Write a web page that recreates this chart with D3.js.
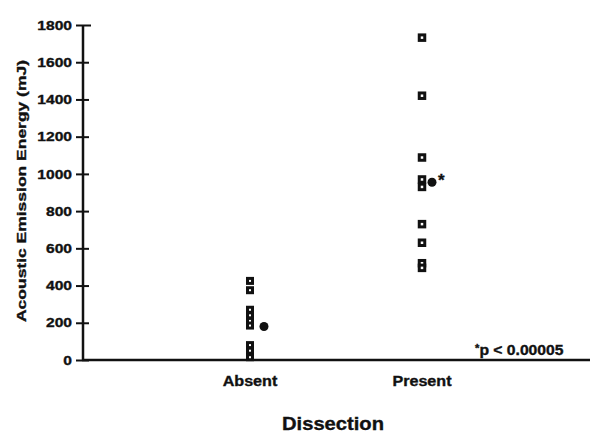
<!DOCTYPE html>
<html>
<head>
<meta charset="utf-8">
<script src="https://cdn.jsdelivr.net/npm/d3@7"></script>
<style>
  body { margin: 0; background: #fff; }
  text { font-family: "Liberation Sans", Arial, sans-serif; font-weight: bold; fill: #111; stroke: #111; stroke-width: 0.35px; }
</style>
</head>
<body>
<svg id="chart" width="606" height="434"></svg>
<script>
// values
var categories = ["Absent", "Present"];
var absentValues = [425, 375, 270, 240, 210, 185, 80, 50, 15];
var presentValues = [1732, 1420, 1088, 970, 930, 730, 630, 520, 495];
var meanValues = [180, 955];
var yTicks = [0, 200, 400, 600, 800, 1000, 1200, 1400, 1600, 1800];

var svg = d3.select("#chart");

var y = d3.scaleLinear().domain([0, 1800]).range([360, 25]);
var x = d3.scalePoint().domain(categories).range([250, 422]);
var axisLeftX = 83, axisRightX = 590;

// scanned text is a bit wider than the font, stretch it
function widen(sel, k) {
    sel.each(function() {
        var w = this.getComputedTextLength();
        d3.select(this).attr("textLength", w * k).attr("lengthAdjust", "spacingAndGlyphs");
    });
}

// y axis, ticks crossing the line
var yAxis = svg.append("g")
    .attr("transform", "translate(" + axisLeftX + ",0)")
    .call(d3.axisLeft(y).tickValues(yTicks).tickFormat(d3.format("d")).tickSize(6));
yAxis.select(".domain").remove();
yAxis.selectAll(".tick line").attr("x2", 6).attr("x1", -7)
    .attr("stroke", "#111").attr("stroke-width", 2);
yAxis.select(".tick:last-of-type line").attr("x1", -7).attr("x2", 8);
yAxis.selectAll(".tick text")
    .attr("font-size", 13).attr("fill", "#111")
    .attr("font-family", "Liberation Sans, Arial, sans-serif")
    .attr("font-weight", "bold")
    .attr("x", -11);
widen(yAxis.selectAll(".tick text"), 1.2);

svg.append("line")
    .attr("x1", axisLeftX).attr("x2", axisLeftX)
    .attr("y1", y(1800)).attr("y2", y(0) + 1)
    .attr("stroke", "#111").attr("stroke-width", 2.5);

// x axis line
svg.append("line")
    .attr("x1", axisLeftX - 1).attr("x2", axisRightX)
    .attr("y1", y(0)).attr("y2", y(0))
    .attr("stroke", "#111").attr("stroke-width", 2.5);

// category labels
var cats = svg.selectAll(".cat").data(categories).enter().append("text")
    .attr("class", "cat")
    .attr("x", function(d) { return x(d); })
    .attr("y", 386)
    .attr("text-anchor", "middle")
    .attr("font-size", 14)
    .text(function(d) { return d; });
widen(cats, 1.15);

// individual points
var groups = [absentValues, presentValues];
groups.forEach(function(vals, i) {
    var s = i === 0 ? 5 : 5.5;
    svg.selectAll(".sq" + i).data(vals).enter().append("rect")
        .attr("x", x(categories[i]) - s / 2)
        .attr("y", function(d) { return y(d) - s / 2; })
        .attr("width", s).attr("height", s)
        .attr("fill", "#fff")
        .attr("stroke", "#111").attr("stroke-width", 3);
});

// means
svg.selectAll(".mean").data(meanValues).enter().append("circle")
    .attr("cx", function(d, i) { return x(categories[i]) + (i === 0 ? 14 : 10); })
    .attr("cy", function(d) { return y(d); })
    .attr("r", 4.5)
    .attr("fill", "#111");

svg.append("text")
    .attr("x", x(categories[1]) + 16)
    .attr("y", y(meanValues[1]) + 4)
    .attr("font-size", 17)
    .text("*");

// p value note
var note = svg.append("text").attr("x", 475).attr("y", 355).attr("font-size", 14);
note.append("tspan").attr("font-size", 10).attr("dy", -3).text("*");
note.append("tspan").attr("dy", 3).text("p < 0.00005");
widen(note, 1.12);

// axis titles
svg.append("text")
    .attr("transform", "translate(26,191) rotate(-90)")
    .attr("text-anchor", "middle")
    .attr("font-size", 13)
    .attr("textLength", 262)
    .attr("lengthAdjust", "spacingAndGlyphs")
    .text("Acoustic Emission Energy (mJ)");

var xt = svg.append("text")
    .attr("x", 333)
    .attr("y", 430)
    .attr("text-anchor", "middle")
    .attr("font-size", 18)
    .text("Dissection");
widen(xt, 1.12);
</script>
</body>
</html>
